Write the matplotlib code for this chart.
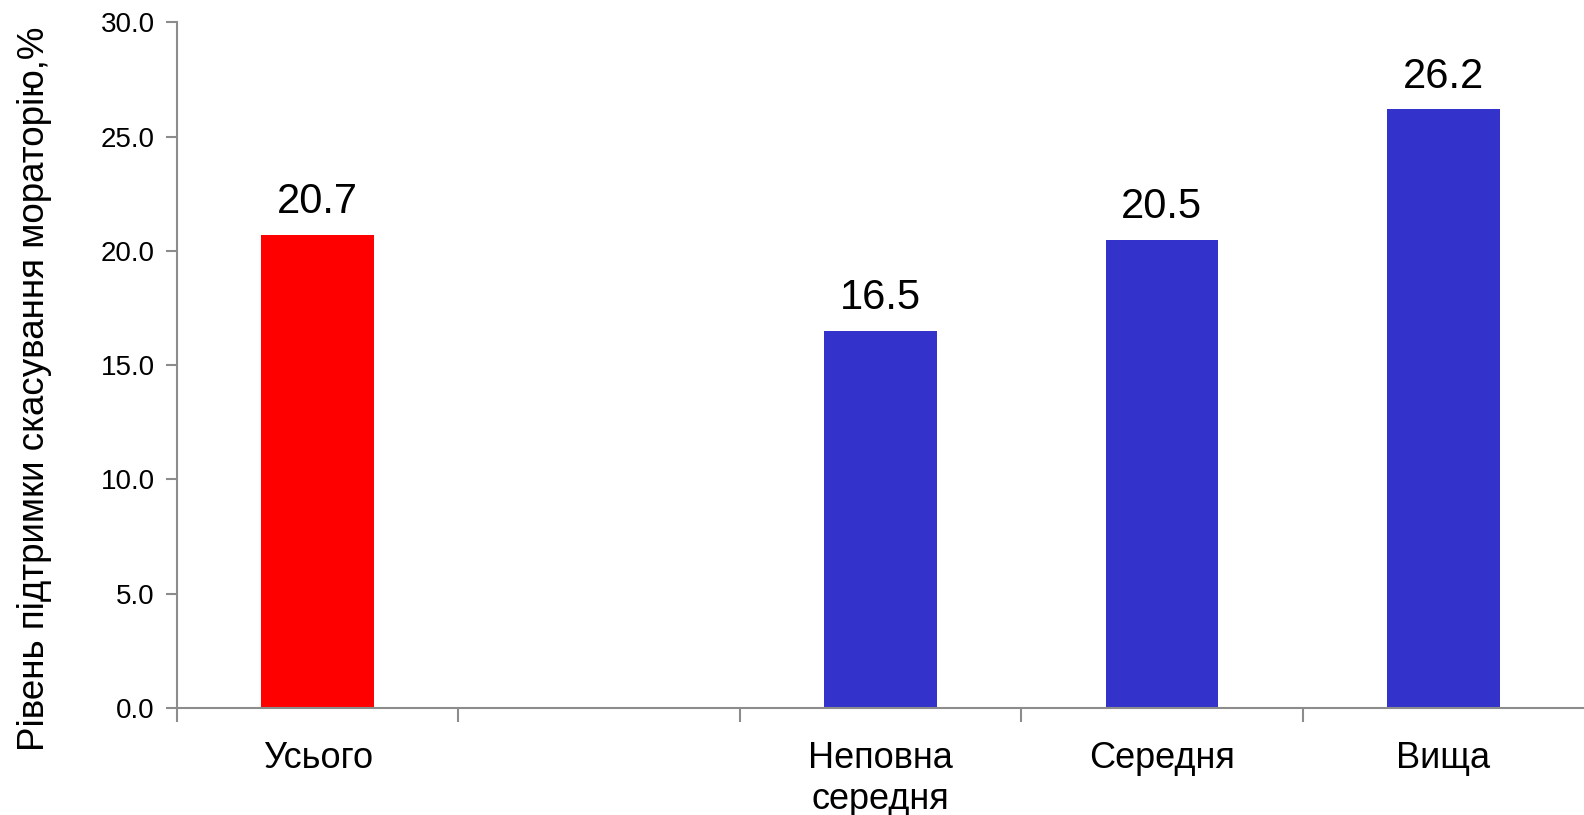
import matplotlib
matplotlib.use("Agg")
import matplotlib.pyplot as plt
import numpy as np

plt.rcParams['font.family'] = ['Liberation Sans', 'DejaVu Sans']

categories = ["Усього", "", "Неповна\nсередня", "Середня", "Вища"]
values = [20.7, None, 16.5, 20.5, 26.2]
colors = ["#FF0000", None, "#3333CC", "#3333CC", "#3333CC"]
y_ticks = [0, 5, 10, 15, 20, 25, 30]
y_label = "Рівень підтримки скасування мораторію,%"

fig = plt.figure(figsize=(15.84, 8.15), dpi=100)
ax = fig.add_axes([0.1117, 0.1313, 0.8883, 0.8411])

x = np.arange(len(categories))
for xi, v, c in zip(x, values, colors):
    if v is None:
        continue
    ax.bar(xi, v, width=0.4, color=c, zorder=2)
    ax.annotate(f"{v:.1f}", (xi, v), xytext=(0, 9), textcoords="offset points",
                ha="center", va="bottom", fontsize=30, color="black")

ax.set_xlim(-0.5, len(categories) - 0.5)
ax.set_ylim(0, 30)
ax.set_yticks(y_ticks)
ax.set_yticklabels([f"{t:.1f}" for t in y_ticks], fontsize=20)

ax.set_xticks(x)
ax.set_xticklabels(categories, fontsize=26, linespacing=1.2, va="top")
ax.tick_params(axis="x", which="major", length=0, pad=24)
ax.set_xticks(np.arange(-0.5, len(categories) - 0.5, 1.0), minor=True)
ax.tick_params(axis="x", which="minor", length=10, width=1.5, color="#8C8C8C", direction="out")
ax.tick_params(axis="y", length=8, width=1.5, color="#8C8C8C", direction="out", pad=8)

for side in ("top", "right"):
    ax.spines[side].set_visible(False)
for side in ("left", "bottom"):
    ax.spines[side].set_color("#8C8C8C")
    ax.spines[side].set_linewidth(1.5)

fig.text(0.022, 0.523, y_label, rotation=90, ha="center", va="center", fontsize=26.5)

fig.savefig("out.png", dpi=100)
